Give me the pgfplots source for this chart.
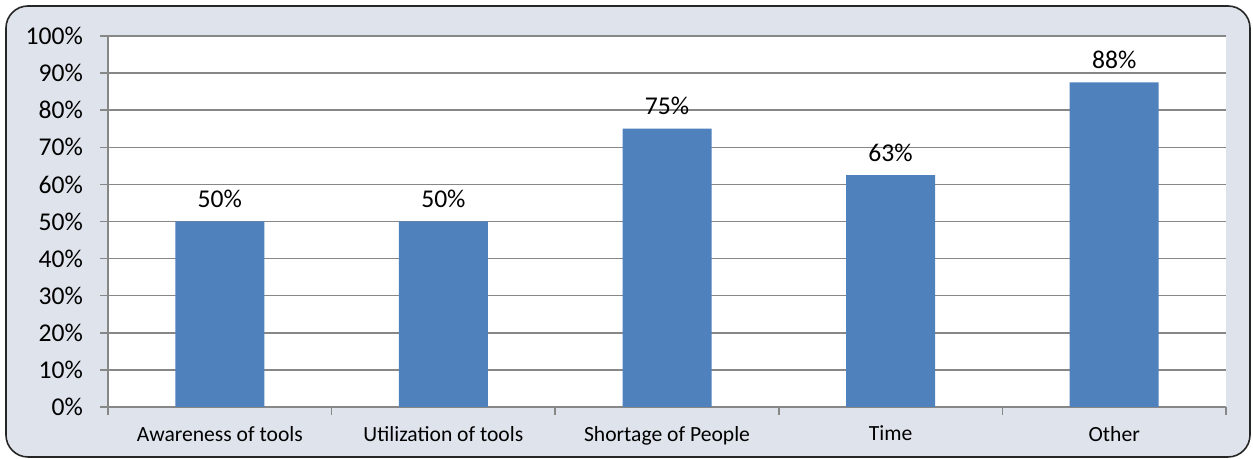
\documentclass[border=0pt]{standalone}
\usepackage{pgfplots}
\pgfplotsset{compat=1.18}
\usepackage{fontspec}
\setmainfont{Carlito}
\definecolor{bgcol}{HTML}{DFE4EC}
\definecolor{barcol}{HTML}{4F81BD}
\definecolor{gridcol}{HTML}{878787}
\begin{document}
\begin{tikzpicture}
\useasboundingbox (0,0) rectangle (626.5pt,229.5pt);
\draw[fill=bgcol, draw=black!85, line width=0.8pt, rounded corners=11pt] (3pt,1pt) rectangle (625pt,226.5pt);
\begin{axis}[
  at={(54pt,26pt)}, anchor=south west,
  width=559pt, height=185.5pt, scale only axis,
  xmin=-0.5, xmax=4.5, ymin=0, ymax=100,
  ybar, bar width=44.5pt,
  axis background/.style={fill=white},
  axis x line=bottom, axis y line=left,
  axis line style={gridcol, line width=0.75pt, -},
  xtick={0,1,2,3,4},
  xticklabels={Awareness of tools, Utilization of tools, Shortage of People, Time, Other},
  minor xtick={-0.5,0.5,1.5,2.5,3.5,4.5},
  major x tick style={draw=none},
  minor x tick style={gridcol, line width=0.75pt},
  tick align=outside,
  major tick length=4pt, minor tick length=4pt,
  y tick style={gridcol, line width=0.75pt},
  ytick={0,10,...,100},
  yticklabel={\pgfmathprintnumber{\tick}\%},
  ymajorgrids, grid style={gridcol, line width=0.75pt},
  /pgf/number format/assume math mode=true,
  yticklabel style={font=\fontsize{12.8pt}{15pt}\selectfont, text=black, xshift=-5pt},
  xticklabel style={font=\fontsize{10.8pt}{13pt}\selectfont, text=black, yshift=-2pt},
  nodes near coords,
  point meta=explicit symbolic,
  every node near coord/.append style={font=\fontsize{12.8pt}{15pt}\selectfont, text=black, anchor=base, yshift=7pt, inner sep=0pt},
  clip=false,
]
\addplot[fill=barcol, draw=none] coordinates {
  (0,50) [50\%]
  (1,50) [50\%]
  (2,75) [75\%]
  (3,62.5) [63\%]
  (4,87.5) [88\%]
};
\end{axis}
\end{tikzpicture}
\end{document}
